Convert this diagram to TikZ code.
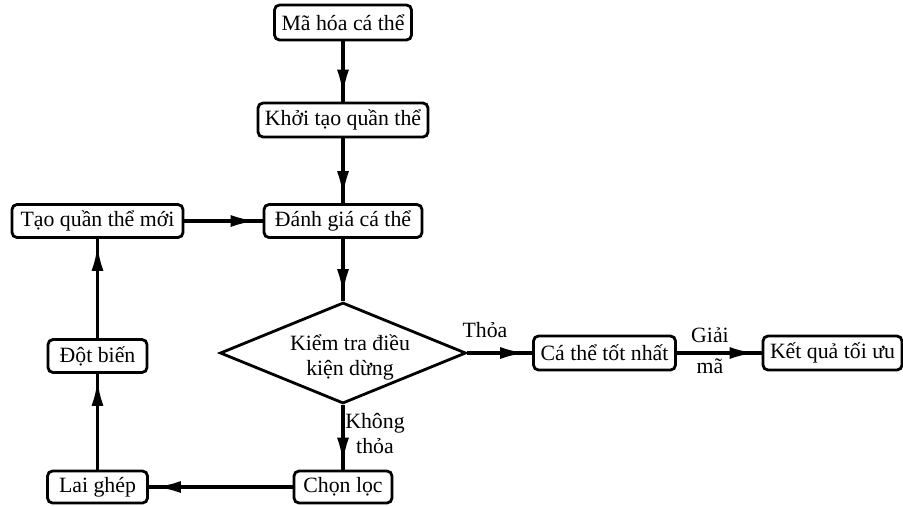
\documentclass[tikz,border=0pt]{standalone}
\usepackage{fontspec}
\setmainfont{Liberation Serif}
\usetikzlibrary{shapes.geometric,arrows.meta,decorations.markings}
\begin{document}
\begin{tikzpicture}[x=0.5pt,y=-0.5pt,
  font=\fontsize{10.9}{12.5}\selectfont,
  box/.style={draw, line width=1.4pt, rounded corners=2.5pt, inner sep=0pt, minimum height=16.5pt},
  conn/.style={line width=1.8pt, postaction={decorate},
    decoration={markings, mark=at position -3pt with {\arrow{Latex[length=13pt,width=6pt]}}}},
  lbl/.style={align=center, inner sep=0pt}
]
\useasboundingbox (0,0) rectangle (903,505);

\node[box, minimum width=68.5pt, minimum height=17.5pt] (ma) at (343,22.5) {Mã hóa cá thể};
\node[box, minimum width=85pt, minimum height=17pt] (kt) at (343,120) {Khởi tạo quần thể};
\node[box, minimum width=79pt] (dg) at (343,221) {Đánh giá cá thể};
\node[box, minimum width=85.5pt] (tq) at (97.5,221) {Tạo quần thể mới};
\node[draw, diamond, line width=1.4pt, inner sep=0pt, minimum width=123pt, minimum height=50.5pt] (dk) at (343,353) {};
\node[lbl] (dktext) at (350,357) {Kiểm tra điều\\kiện dừng};
\node[box, minimum width=71pt, minimum height=17pt] (ct) at (604.5,353) {Cá thể tốt nhất};
\node[box, minimum width=69.5pt, minimum height=17pt] (kq) at (832.5,353) {Kết quả tối ưu};
\node[box, minimum width=49.5pt] (db) at (97.5,356) {Đột biến};
\node[box, minimum width=50pt, minimum height=16pt] (lg) at (97.5,487) {Lai ghép};
\node[box, minimum width=49pt, minimum height=16pt] (cl) at (343,487) {Chọn lọc};

\draw[conn] (ma.south) -- (kt.north);
\draw[conn] (kt.south) -- (dg.north);
\draw[conn] (dg.south) -- (dk.north);
\draw[conn] (tq.east) -- (dg.west);
\draw[conn] (dk.east) -- (ct.west);
\draw[conn] (ct.east) -- (kq.west);
\draw[conn] (dk.south) -- (cl.north);
\draw[conn] (cl.west) -- (lg.east);
\draw[conn] (lg.north) -- (db.south);
\draw[conn] (db.north) -- (tq.south);

\node[lbl] (thoa) at (485,330) {Thỏa};
\node[lbl, font=\fontsize{10.9}{15.5}\selectfont] (giai) at (710,351) {Giải\\mã};
\node[lbl] (khong) at (375,434) {Không\\thỏa};
\end{tikzpicture}
\end{document}
